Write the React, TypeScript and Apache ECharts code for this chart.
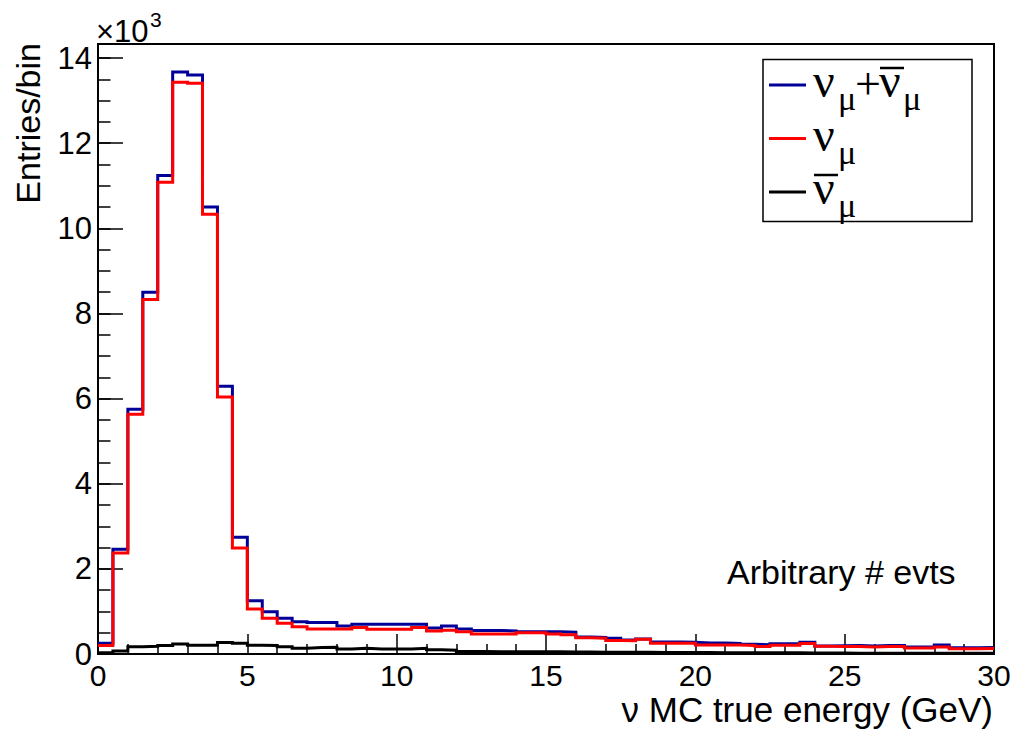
import React, { useEffect, useRef } from "react";
import * as echarts from "echarts";

// Histogram bin width (GeV); bins start at 0
const BIN_WIDTH = 0.5;

// nu_mu + anti-nu_mu (entries per bin)
const numuSum = [
  250, 2460, 5750, 8500, 11240, 13670, 13600, 10500, 6290, 2740,
  1250, 990, 840, 760, 740, 740, 660, 700, 700, 700,
  700, 700, 610, 660, 590, 550, 550, 540, 520, 520,
  520, 510, 400, 390, 370, 330, 350, 280, 280, 275,
  260, 260, 250, 230, 215, 240, 240, 275, 190, 195,
  200, 190, 200, 200, 165, 165, 210, 145, 145, 150,
];

// nu_mu
const numu = [
  200, 2370, 5630, 8330, 11080, 13430, 13410, 10330, 6040, 2490,
  1060, 840, 720, 640, 590, 590, 590, 620, 580, 580,
  580, 620, 540, 560, 520, 470, 470, 470, 500, 500,
  470, 450, 380, 370, 320, 310, 345, 250, 250, 250,
  210, 210, 210, 200, 175, 205, 205, 245, 180, 175,
  175, 165, 175, 175, 140, 140, 165, 125, 125, 130,
];

// anti nu_mu
const numubar = [
  30, 70, 170, 180, 200, 235, 205, 205, 270, 250,
  205, 200, 170, 135, 150, 160, 120, 135, 120, 120,
  120, 135, 100, 90, 60, 60, 55, 50, 50, 50,
  50, 45, 45, 40, 40, 40, 40, 35, 35, 35,
  35, 30, 30, 30, 30, 30, 30, 25, 25, 25,
  20, 20, 20, 20, 20, 20, 20, 15, 15, 15,
];

const X_MIN = 0;
const X_MAX = 30;
const X_INTERVAL = 5;
const Y_MIN = 0;
const Y_MAX = 14330;
const Y_INTERVAL = 2000;
const Y_MINOR = 500;

const SERIES_NAMES = ["numu+anumu", "numu", "anumu"];
const COLORS = ["#000099", "#ff0000", "#000000"];

function toSteps(vals: number[]): number[][] {
  const pts = vals.map((v, i) => [i * BIN_WIDTH, v]);
  pts.push([vals.length * BIN_WIDTH, vals[vals.length - 1]]);
  return pts;
}

const SANS = "Liberation Sans";
const SERIF = "Liberation Serif";

function txt(text: string, x: number, y: number, fontSize: number, family: string, align = "left", extra: any = {}) {
  return {
    type: "text",
    x,
    y,
    silent: true,
    z: 20,
    ...extra,
    style: {
      text,
      fill: "#000",
      fontSize,
      fontFamily: family,
      align,
      textAlign: align,
      verticalAlign: "middle",
      textVerticalAlign: "middle",
    },
  };
}

function hline(x1: number, x2: number, y: number, color: string, w: number) {
  return {
    type: "line",
    silent: true,
    z: 20,
    shape: { x1, y1: y, x2, y2: y },
    style: { stroke: color, lineWidth: w },
  };
}

function legendRow(baseY: number, color: string, bar: boolean, plus: boolean): any[] {
  const lineY = baseY - 12;
  const els: any[] = [hline(769, 806, lineY, color, 3)];
  const nuMid = baseY - 0.3375 * 48;
  const muMid = baseY + 13 - 0.3375 * 34;
  els.push(txt("ν", 813, nuMid, 48, SERIF));
  if (plus) {
    els.push(txt("μ", 838, muMid, 34, SERIF));
    els.push(txt("+", 855, baseY + 2 - 0.3375 * 46, 46, SERIF));
    els.push(txt("ν", 879, nuMid, 48, SERIF));
    els.push(hline(880, 904, baseY - 29, "#000", 2.5));
    els.push(txt("μ", 903, muMid, 34, SERIF));
  } else {
    if (bar) els.push(hline(814, 838, baseY - 29, "#000", 2.5));
    els.push(txt("μ", 838, muMid, 34, SERIF));
  }
  return els;
}

export default function App() {
  const ref = useRef<HTMLDivElement>(null);

  useEffect(() => {
    document.body.style.margin = "0";
    if (!ref.current) return;
    const chart = echarts.init(ref.current, null, { renderer: "svg" });

    const sets = [numuSum, numu, numubar];

    const option: any = {
      animation: false,
      backgroundColor: "#ffffff",
      grid: {
        left: 98,
        top: 44,
        width: 896,
        height: 610,
        show: true,
        borderColor: "#000",
        borderWidth: 2,
        backgroundColor: "transparent",
        containLabel: false,
      },
      xAxis: {
        type: "value",
        min: X_MIN,
        max: X_MAX,
        interval: X_INTERVAL,
        axisLine: { show: true, onZero: false, lineStyle: { color: "#000", width: 2 } },
        axisTick: { show: true, inside: true, length: 20, lineStyle: { color: "#000", width: 1.5 } },
        minorTick: { show: true, splitNumber: 5, length: 10, lineStyle: { color: "#000", width: 1.5 } },
        axisLabel: { color: "#000", fontSize: 30, fontFamily: SANS, margin: 6 },
        splitLine: { show: false },
        minorSplitLine: { show: false },
      },
      yAxis: [
        {
          type: "value",
          min: Y_MIN,
          max: Y_MAX,
          interval: Y_INTERVAL,
          position: "left",
          axisLine: { show: true, onZero: false, lineStyle: { color: "#000", width: 2 } },
          axisTick: { show: true, inside: true, length: 25, lineStyle: { color: "#000", width: 1.5 } },
          axisLabel: {
            color: "#000",
            fontSize: 31,
            fontFamily: SANS,
            margin: 6,
            formatter: (v: number) => (v % Y_INTERVAL === 0 ? String(v / 1000) : ""),
          },
          splitLine: { show: false },
        },
        {
          type: "value",
          min: Y_MIN,
          max: Y_MAX,
          interval: Y_MINOR,
          position: "left",
          axisLine: { show: false },
          axisTick: { show: true, inside: true, length: 12.5, lineStyle: { color: "#000", width: 1.5 } },
          axisLabel: { show: false },
          splitLine: { show: false },
        },
      ],
      series: sets.map((vals, i) => ({
        name: SERIES_NAMES[i],
        type: "line",
        step: "end",
        yAxisIndex: 0,
        symbol: "none",
        clip: true,
        data: toSteps(vals),
        lineStyle: { color: COLORS[i], width: 3, cap: "butt", join: "miter" },
        itemStyle: { color: COLORS[i] },
        z: 2 + i,
      })),
      graphic: [
        // ×10^3 axis multiplier
        txt("×10", 96, 42 - 0.3465 * 31, 31, SANS),
        txt("3", 150, 27 - 0.3465 * 21, 21, SANS),
        // y axis title
        txt("Entries/bin", 28, 43, 34, SANS, "right", { rotation: Math.PI / 2 }),
        // x axis title
        txt("ν MC true energy (GeV)", 993, 722 - 0.3465 * 35, 35, SANS, "right"),
        // annotation
        txt("Arbitrary # evts", 727, 584 - 0.3465 * 34, 34, SANS),
        // legend box
        {
          type: "rect",
          silent: true,
          z: 10,
          shape: { x: 763, y: 59.5, width: 209, height: 162 },
          style: { fill: "#fff", stroke: "#000", lineWidth: 1.5 },
        },
        ...legendRow(97, COLORS[0], false, true),
        ...legendRow(150.5, COLORS[1], false, false),
        ...legendRow(204, COLORS[2], true, false),
      ],
    };

    chart.setOption(option);
    return () => chart.dispose();
  }, []);

  return <div ref={ref} style={{ width: 1016, height: 732 }} />;
}
